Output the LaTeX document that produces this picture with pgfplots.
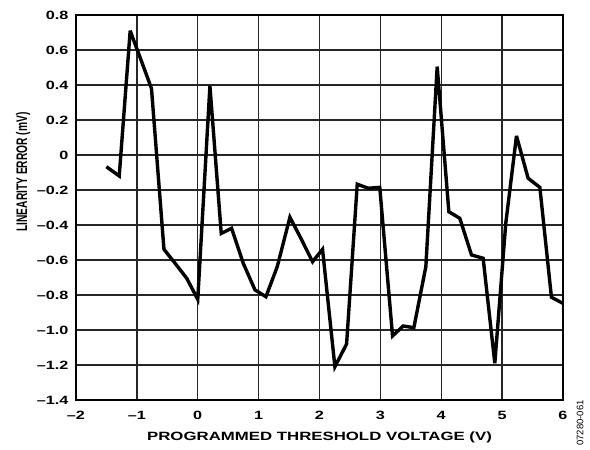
\documentclass[border=0pt]{standalone}
\usepackage{pgfplots}
\pgfplotsset{compat=1.18}
\usepackage{graphicx}
\usepackage{fontspec}
\setmainfont{Liberation Sans}[FakeStretch=1.35]
\newfontfamily\plainfont{Liberation Sans}
\newfontfamily\widefont{Liberation Sans}[FakeStretch=1.40]
\begin{document}
\begin{tikzpicture}
\path[use as bounding box] (0,0) rectangle (590pt,450pt);
\begin{axis}[
  at={(76pt,50pt)}, anchor=south west,
  scale only axis, width=487pt, height=385pt,
  xmin=-2, xmax=6, ymin=-1.4, ymax=0.8,
  xtick={-2,-1,0,1,2,3,4,5,6},
  xticklabels={–2,–1,0,1,2,3,4,5,6},
  ytick={-1.4,-1.2,-1.0,-0.8,-0.6,-0.4,-0.2,0,0.2,0.4,0.6,0.8},
  yticklabels={–1.4,–1.2,–1.0,–0.8,–0.6,–0.4,–0.2,0,0.2,0.4,0.6,0.8},
  major tick length=0pt,
  tick label style={font=\fontsize{12}{14}\selectfont\bfseries},
  xticklabel style={yshift=-8pt},
  yticklabel style={xshift=-4pt},
  xlabel={PROGRAMMED THRESHOLD VOLTAGE (V)},
  xlabel style={font=\fontsize{12}{14}\widefont\bfseries, at={(axis description cs:0.5,0)}, anchor=base, yshift=-41pt},
  ylabel={\scalebox{1}[1.5]{\plainfont\bfseries LINEARITY ERROR (mV)}},
  ylabel style={font=\fontsize{10.2}{12}\selectfont, at={(axis description cs:-0.1006,0.592)}, anchor=base},
  grid=major,
  major grid style={line width=1.3pt, black!85},
  axis line style={line width=2.4pt},
]
\addplot[black, line width=3.4pt, line join=miter, miter limit=4] coordinates {
(-1.50,-0.067) (-1.29,-0.12) (-1.11,0.71) (-0.95,0.56) (-0.76,0.38)
(-0.555,-0.539) (-0.37,-0.62) (-0.18,-0.705) (0.0,-0.825) (0.2,0.394)
(0.386,-0.448) (0.556,-0.419) (0.748,-0.619) (0.94,-0.771) (1.12,-0.81)
(1.306,-0.638) (1.514,-0.356) (1.70,-0.48) (1.886,-0.61) (2.05,-0.539) (2.253,-1.21)
(2.445,-1.08) (2.62,-0.167) (2.80,-0.19) (2.99,-0.185) (3.2,-1.034)
(3.375,-0.977) (3.55,-0.987) (3.747,-0.638) (3.933,0.505) (4.125,-0.324)
(4.305,-0.362) (4.497,-0.571) (4.688,-0.59) (4.88,-1.19) (5.06,-0.39)
(5.236,0.109) (5.427,-0.133) (5.62,-0.185) (5.81,-0.813) (6.0,-0.848)
};
\end{axis}
\node[rotate=90, font=\fontsize{9.5}{11}\plainfont, anchor=center] at (580pt,27pt) {07280-061};
\end{tikzpicture}
\end{document}
